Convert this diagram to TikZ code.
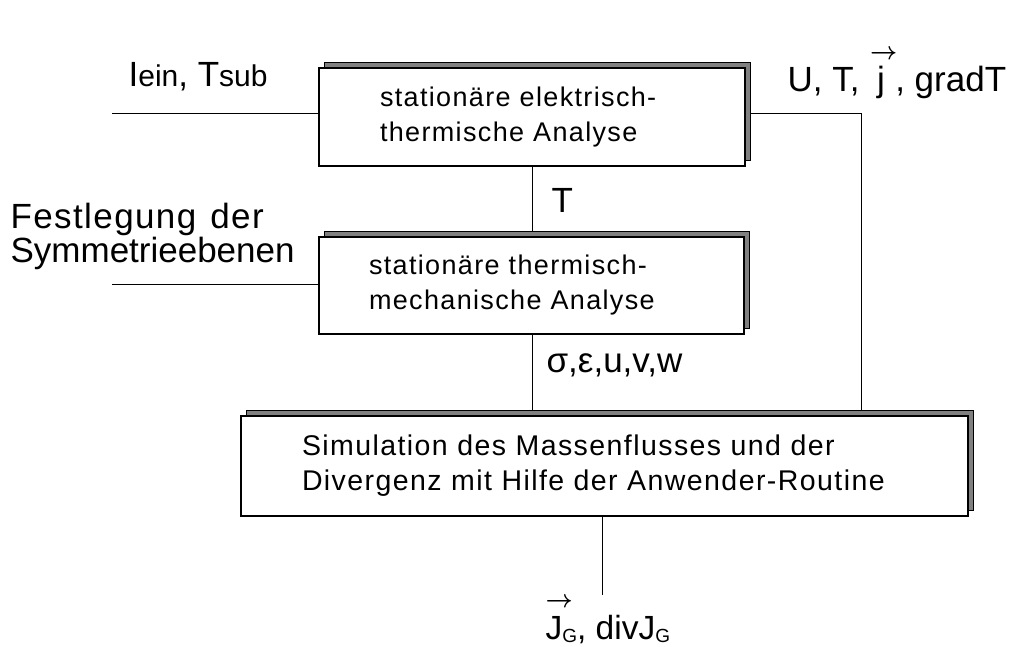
\documentclass[tikz,border=0pt]{standalone}
\usepackage{fontspec}
\setmainfont{Liberation Sans}
\newfontfamily\kastenschrift{Liberation Sans}[LetterSpace=5]
\usetikzlibrary{shadows, backgrounds}
\newcommand{\klein}[1]{{\fontsize{30}{30}\selectfont #1}}
\newcommand{\vekpfeil}[2][0em]{\leavevmode\rlap{\kern#1\raisebox{0.94em}{\scalebox{0.95}[1]{\boldmath$\rightarrow$}}}#2}
\newcommand{\tief}[1]{\raisebox{-3pt}{\fontsize{19}{19}\selectfont #1}}

\begin{document}
\begin{tikzpicture}[x=1pt, y=-1pt, line width=1.2pt,
  kasten/.style={draw, fill=white, align=left, inner ysep=0pt,
    font=\kastenschrift\fontsize{27}{35}\selectfont,
    copy shadow={shadow xshift=5.5pt, shadow yshift=5.5pt, fill=gray, draw=black, line width=1pt}},
  gross/.style={font=\fontsize{35}{29}\selectfont, inner sep=0pt, anchor=base west}]
  \useasboundingbox (0,0) rectangle (1013,647);

  % Kaesten
  \node[kasten, minimum height=98pt, text width=304pt, inner xsep=61pt] (elektrisch) at (532,117)
    {stationäre elektrisch-\\thermische Analyse};
  \node[kasten, minimum height=97pt, text width=325pt, inner xsep=50pt] (mechanisch) at (531.5,285.5)
    {stationäre thermisch-\\mechanische Analyse};
  \node[kasten, minimum height=100pt, text width=605pt, inner xsep=61pt,
    font=\kastenschrift\fontsize{28.5}{35}\selectfont] (simulation) at (604.5,466)
    {Simulation des Massenflusses und der\\Divergenz mit Hilfe der Anwender-Routine};

  % Beschriftungen
  \node[gross] (strom) at (128,87) {I\klein{ein}, T\klein{sub}};
  \node[gross] (ergebnis) at (787,92) {U, T,\hspace{0.5em}\vekpfeil[-0.2em]{j}\hspace{0.3em}, gradT};
  \node[gross, anchor=north west, align=left] (symmetrie) at (10,203)
    {{\addfontfeature{LetterSpace=4}Festlegung\hspace{0.4em}der}\\Symmetrieebenen};
  \node[gross] (temp) at (551,213) {T};
  \node[gross] (spannung) at (546,373) {σ,ε,u,v,w};
  \node[gross, font=\fontsize{33.5}{33.5}\selectfont] (fluss) at (545,639)
    {\vekpfeil{J}\tief{G}, divJ\tief{G}};

  \coordinate (ein1) at (112,113);
  \coordinate (ein2) at (112,284);
  \coordinate (knick) at (861,113);
  \coordinate (aus) at (602,595);

  % Verbindungen
  \begin{scope}[on background layer]
    \draw (ein1) -- (ein1 -| elektrisch.west);
    \draw (ein2) -- (ein2 -| mechanisch.west);
    \draw (elektrisch.south -| temp.west) ++(-19,0) coordinate (mitte) -- (mitte |- mechanisch.north);
    \draw (mitte |- mechanisch.south) -- (mitte |- simulation.north);
    \draw (elektrisch.east |- knick) -- (knick) -- (knick |- simulation.north);
    \draw (simulation.south -| aus) -- (aus);
  \end{scope}
\end{tikzpicture}
\end{document}
